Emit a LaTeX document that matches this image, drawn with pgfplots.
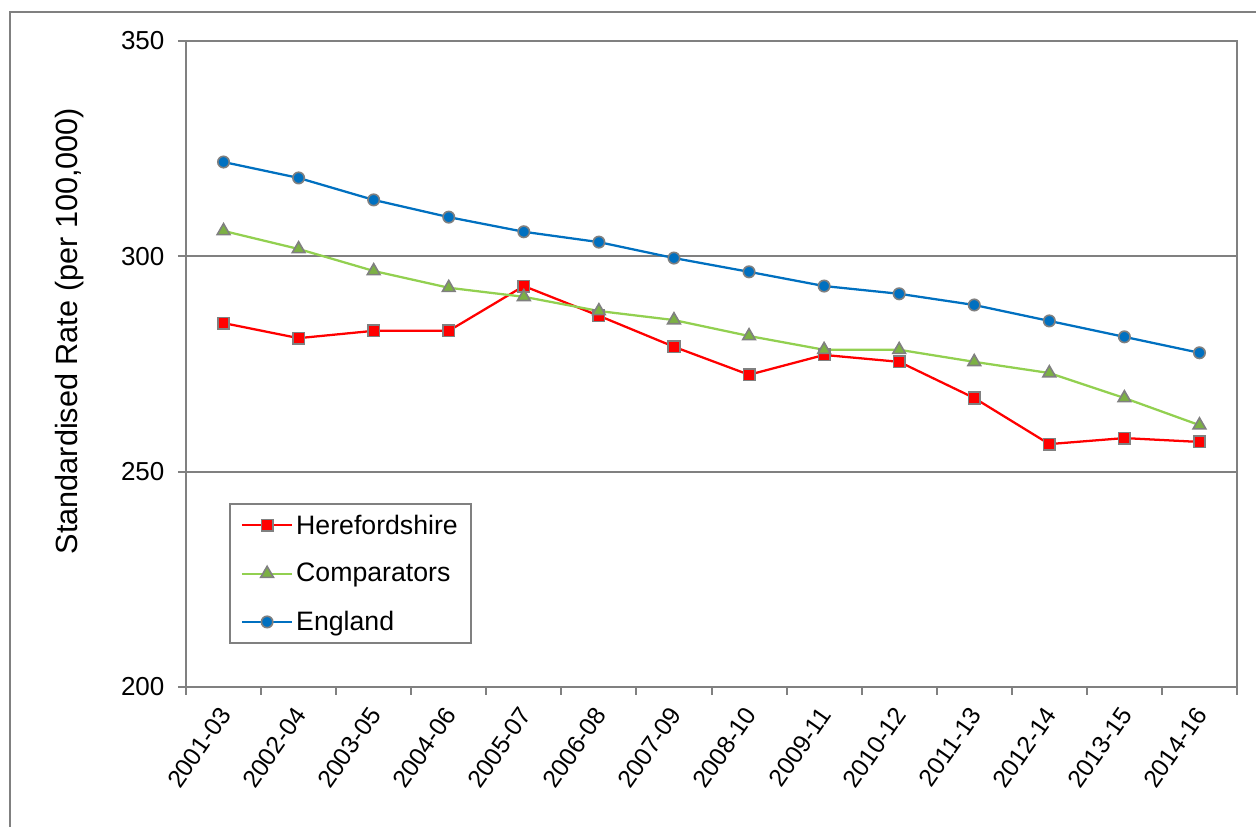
\documentclass[border=0pt]{standalone}
\usepackage{pgfplots}
\pgfplotsset{compat=1.18}
\usepackage{fontspec}
\setmainfont{Liberation Sans}
\definecolor{hred}{HTML}{FF0000}
\definecolor{cgreen}{HTML}{92D050}
\definecolor{eblue}{HTML}{0070C0}
\definecolor{axgray}{HTML}{808080}
\begin{document}
\begin{tikzpicture}
\useasboundingbox (-139.5pt,-105pt) rectangle (802.5pt,515.25pt);
\draw[axgray, line width=1.5pt] (-132pt,-110pt) -- (-132pt,506.25pt) -- (810pt,506.25pt);
\begin{axis}[
  at={(0pt,0pt)}, anchor=south west,
  scale only axis, width=788.25pt, height=484.5pt,
  xmin=-0.5, xmax=13.5, ymin=200, ymax=350,
  xtick={0,...,13},
  xticklabels={2001-03,2002-04,2003-05,2004-06,2005-07,2006-08,2007-09,2008-10,2009-11,2010-12,2011-13,2012-14,2013-15,2014-16},
  major x tick style={draw=none},
  minor xtick={-0.5,0.5,...,13.5},
  ytick={200,250,300,350},
  xtick pos=left, ytick pos=left,
  ymajorgrids, grid style={axgray, line width=1.5pt},
  axis line style={axgray, line width=1.6pt},
  tick style={axgray, line width=1.5pt},
  tick align=outside, major tick length=6pt, minor tick length=6pt,
  tick label style={font=\fontsize{19.5}{23}\selectfont, text=black},
  /pgf/number format/assume math mode=true,
  xticklabel style={xshift=3pt, yshift=-9pt, rotate=55, anchor=east, inner sep=3pt, font=\fontsize{18.5}{22}\selectfont},
  yticklabel style={inner sep=4pt, xshift=-6pt},
  ylabel={Standardised Rate (per 100,000)},
  ylabel style={font=\fontsize{23}{28}\selectfont, at={(axis description cs:-0.1105,0.551)}, anchor=center},
  legend style={at={(axis description cs:0.0409,0.2848)}, anchor=north west, draw=axgray, line width=1.5pt,
    font=\fontsize{20}{24}\selectfont, row sep=16.5pt, inner xsep=8pt, inner ysep=6pt},
  legend cell align=left,
  legend image code/.code={\draw[mark repeat=2,mark phase=2] plot coordinates {(0pt,0pt) (19pt,0pt) (38pt,0pt)};},
]
\addplot[hred, line width=1.7pt, mark=square*, mark size=4.3pt, mark options={fill=hred, draw=axgray, line width=1.2pt}]
 coordinates {(0,284.5)(1,281.0)(2,282.7)(3,282.7)(4,293.1)(5,286.2)(6,279.0)(7,272.5)(8,277.1)(9,275.5)(10,267.1)(11,256.4)(12,257.8)(13,256.9)};
\addlegendentry{Herefordshire}
\addplot[cgreen, line width=1.7pt, mark=triangle*, mark size=5.5pt, mark options={fill=cgreen!85!black, draw=axgray, line width=1.2pt}]
 coordinates {(0,305.9)(1,301.7)(2,296.6)(3,292.7)(4,290.6)(5,287.3)(6,285.2)(7,281.5)(8,278.3)(9,278.3)(10,275.5)(11,272.9)(12,267.1)(13,260.8)};
\addlegendentry{Comparators}
\addplot[eblue, line width=1.7pt, mark=*, mark size=4.3pt, mark options={fill=eblue, draw=axgray, line width=1.2pt}]
 coordinates {(0,321.9)(1,318.2)(2,313.1)(3,309.1)(4,305.7)(5,303.3)(6,299.6)(7,296.4)(8,293.1)(9,291.3)(10,288.7)(11,285.0)(12,281.3)(13,277.6)};
\addlegendentry{England}
\end{axis}
\end{tikzpicture}
\end{document}
